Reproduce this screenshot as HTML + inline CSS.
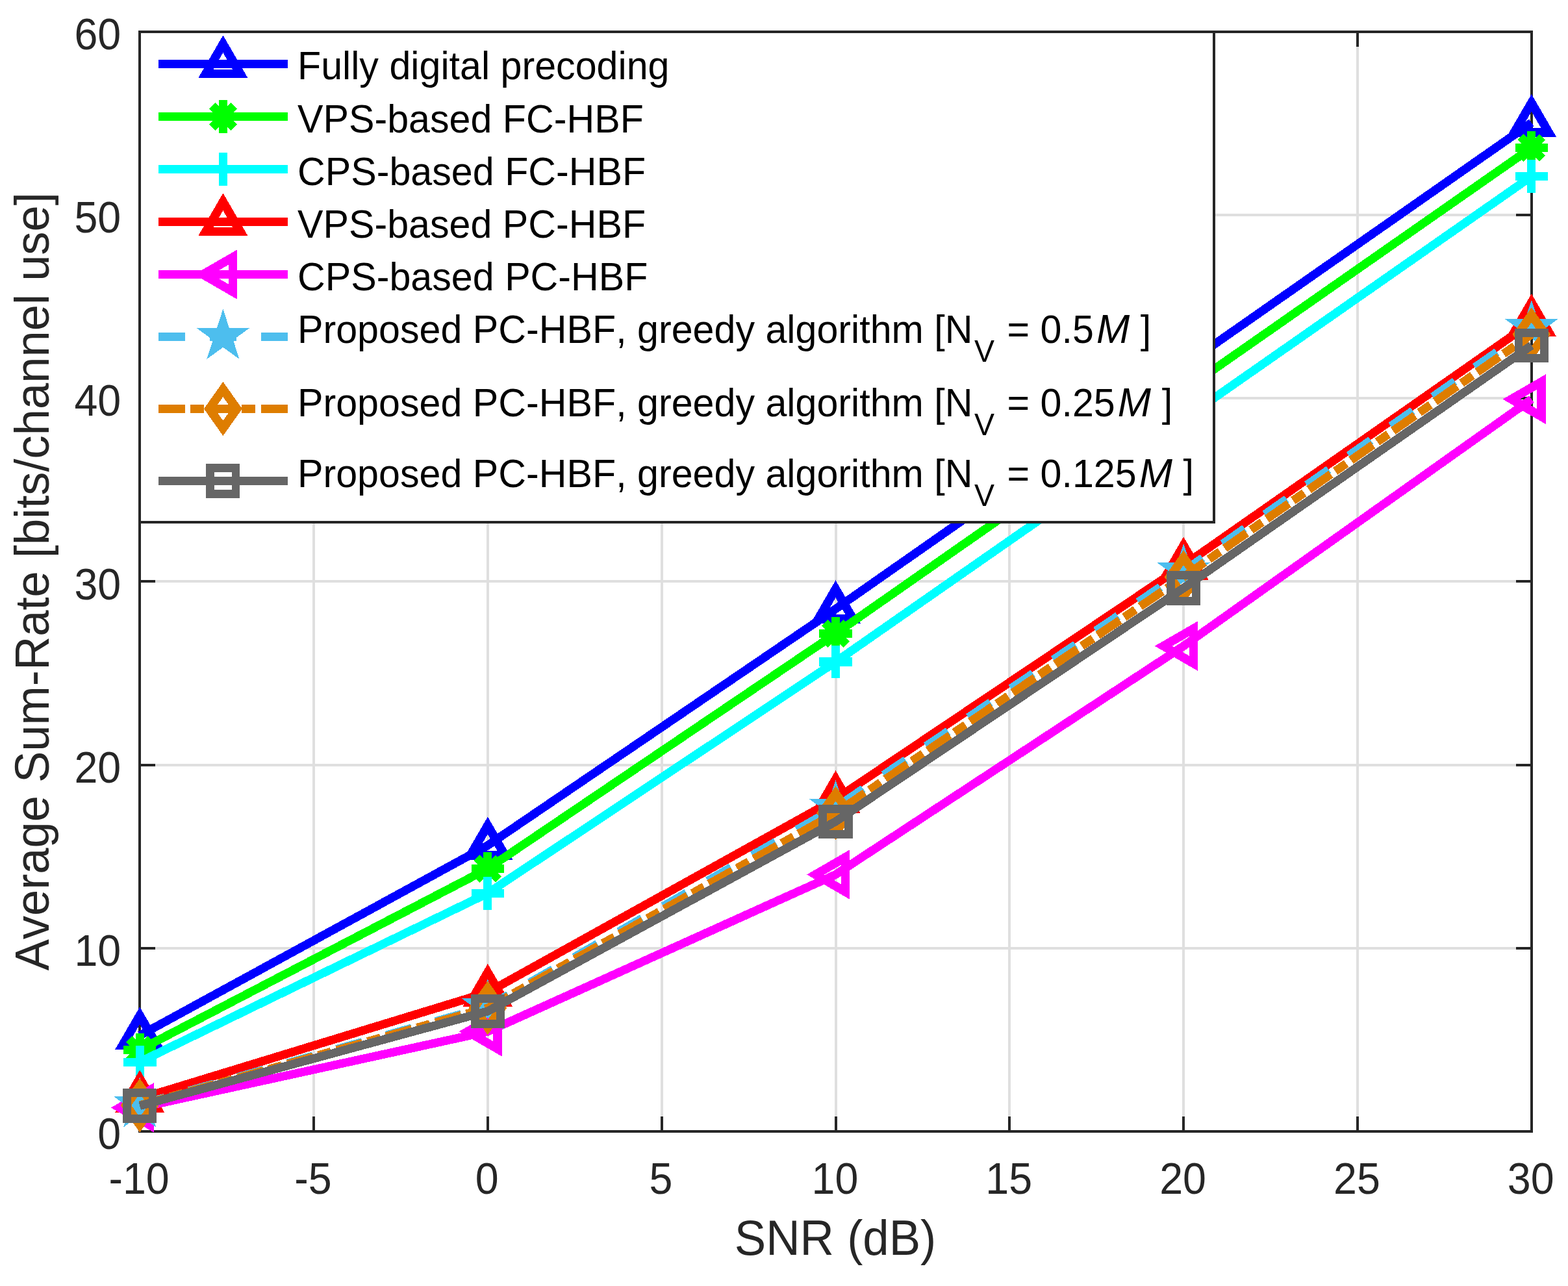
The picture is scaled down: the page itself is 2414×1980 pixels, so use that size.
<!DOCTYPE html>
<html lang="en"><head><meta charset="utf-8"><title>Average Sum-Rate vs SNR</title>
<style>
html,body{margin:0;padding:0;background:#fff;}
body{width:2414px;height:1980px;overflow:hidden;}
svg{display:block;}
text{font-family:"Liberation Sans",Arial,Helvetica,sans-serif;font-kerning:none;font-variant-ligatures:none;}
.tk{font-size:64.6px;fill:#262626;}
.lb{font-size:72.6px;fill:#262626;}
.yl{font-size:72.35px;}
.lg{font-size:59.2px;fill:#000;}
.sub{font-size:46.5px;}
.it{font-style:italic;font-size:61.5px;}
</style></head><body>
<svg width="2414" height="1980" viewBox="0 0 2414 1980" shape-rendering="crispEdges">
<rect width="2414" height="1980" fill="#fff"/>
<g stroke="#dfdfdf" stroke-width="4" fill="none">
<line x1="483.03" y1="48.8" x2="483.03" y2="1742"/>
<line x1="750.85" y1="48.8" x2="750.85" y2="1742"/>
<line x1="1018.68" y1="48.8" x2="1018.68" y2="1742"/>
<line x1="1286.5" y1="48.8" x2="1286.5" y2="1742"/>
<line x1="1554.33" y1="48.8" x2="1554.33" y2="1742"/>
<line x1="1822.15" y1="48.8" x2="1822.15" y2="1742"/>
<line x1="2089.98" y1="48.8" x2="2089.98" y2="1742"/>
<line x1="215.2" y1="1459.8" x2="2357.8" y2="1459.8"/>
<line x1="215.2" y1="1177.6" x2="2357.8" y2="1177.6"/>
<line x1="215.2" y1="895.4" x2="2357.8" y2="895.4"/>
<line x1="215.2" y1="613.2" x2="2357.8" y2="613.2"/>
<line x1="215.2" y1="331" x2="2357.8" y2="331"/>
</g>
<g stroke="#262626" stroke-width="4" fill="none">
<rect x="215.2" y="48.8" width="2142.6" height="1693.2"/>
<path d="M483.03 1742v-23.5M483.03 48.8v23.5M750.85 1742v-23.5M750.85 48.8v23.5M1018.68 1742v-23.5M1018.68 48.8v23.5M1286.5 1742v-23.5M1286.5 48.8v23.5M1554.33 1742v-23.5M1554.33 48.8v23.5M1822.15 1742v-23.5M1822.15 48.8v23.5M2089.98 1742v-23.5M2089.98 48.8v23.5M215.2 1459.8h23.5M2357.8 1459.8h-23.5M215.2 1177.6h23.5M2357.8 1177.6h-23.5M215.2 895.4h23.5M2357.8 895.4h-23.5M215.2 613.2h23.5M2357.8 613.2h-23.5M215.2 331h23.5M2357.8 331h-23.5"/>
</g>
<g class="tk" text-anchor="middle">
<text transform="translate(214.1 1837.8) scale(1 1.055)">-10</text>
<text transform="translate(481.93 1837.8) scale(1 1.055)">-5</text>
<text transform="translate(749.75 1837.8) scale(1 1.055)">0</text>
<text transform="translate(1017.58 1837.8) scale(1 1.055)">5</text>
<text transform="translate(1285.4 1837.8) scale(1 1.055)">10</text>
<text transform="translate(1553.23 1837.8) scale(1 1.055)">15</text>
<text transform="translate(1821.05 1837.8) scale(1 1.055)">20</text>
<text transform="translate(2088.88 1837.8) scale(1 1.055)">25</text>
<text transform="translate(2356.7 1837.8) scale(1 1.055)">30</text>
</g>
<g class="tk" text-anchor="end">
<text transform="translate(186.3 1769.2) scale(1 1.055)">0</text>
<text transform="translate(186.3 1487) scale(1 1.055)">10</text>
<text transform="translate(186.3 1204.8) scale(1 1.055)">20</text>
<text transform="translate(186.3 922.6) scale(1 1.055)">30</text>
<text transform="translate(186.3 640.4) scale(1 1.055)">40</text>
<text transform="translate(186.3 358.2) scale(1 1.055)">50</text>
<text transform="translate(186.3 76) scale(1 1.055)">60</text>
</g>
<text class="lb" text-anchor="middle" transform="translate(1286 1932.2) scale(1 1.05)">SNR (dB)</text>
<text class="lb yl" text-anchor="middle" transform="translate(74.9 895.3) rotate(-90) scale(1 1.03)">Average Sum-Rate [bits/channel use]</text>
<g>
<polyline points="215.2,1594.4 750.85,1301.7 1286.5,937.6 1822.15,563.25 2357.8,189" fill="none" stroke="#0000ff" stroke-width="13.1" stroke-linejoin="miter" stroke-linecap="butt"/>
<polygon points="215.2,1563.7 241.8,1609.55 188.6,1609.55" fill="none" stroke="#0000ff" stroke-width="13.5" stroke-linejoin="miter" stroke-miterlimit="10"/>
<polygon points="750.85,1271 777.45,1316.85 724.25,1316.85" fill="none" stroke="#0000ff" stroke-width="13.5" stroke-linejoin="miter" stroke-miterlimit="10"/>
<polygon points="1286.5,906.9 1313.1,952.75 1259.9,952.75" fill="none" stroke="#0000ff" stroke-width="13.5" stroke-linejoin="miter" stroke-miterlimit="10"/>
<polygon points="1822.15,532.55 1848.75,578.4 1795.55,578.4" fill="none" stroke="#0000ff" stroke-width="13.5" stroke-linejoin="miter" stroke-miterlimit="10"/>
<polygon points="2357.8,158.3 2384.4,204.15 2331.2,204.15" fill="none" stroke="#0000ff" stroke-width="13.5" stroke-linejoin="miter" stroke-miterlimit="10"/>
</g>
<g>
<polyline points="215.2,1616.3 750.85,1337.5 1286.5,975.5 1822.15,601.4 2357.8,227.5" fill="none" stroke="#00ff00" stroke-width="13.1" stroke-linejoin="miter" stroke-linecap="butt"/>
<path d="M190 1616.3H240.4M215.2 1591.1V1641.5M198.51 1599.61L231.89 1632.99M198.51 1632.99L231.89 1599.61" fill="none" stroke="#00ff00" stroke-width="13.1" stroke-linejoin="miter" stroke-miterlimit="10"/>
<path d="M725.65 1337.5H776.05M750.85 1312.3V1362.7M734.16 1320.81L767.54 1354.19M734.16 1354.19L767.54 1320.81" fill="none" stroke="#00ff00" stroke-width="13.1" stroke-linejoin="miter" stroke-miterlimit="10"/>
<path d="M1261.3 975.5H1311.7M1286.5 950.3V1000.7M1269.81 958.81L1303.19 992.19M1269.81 992.19L1303.19 958.81" fill="none" stroke="#00ff00" stroke-width="13.1" stroke-linejoin="miter" stroke-miterlimit="10"/>
<path d="M1796.95 601.4H1847.35M1822.15 576.2V626.6M1805.46 584.71L1838.84 618.09M1805.46 618.09L1838.84 584.71" fill="none" stroke="#00ff00" stroke-width="13.1" stroke-linejoin="miter" stroke-miterlimit="10"/>
<path d="M2332.6 227.5H2383M2357.8 202.3V252.7M2341.11 210.81L2374.49 244.19M2341.11 244.19L2374.49 210.81" fill="none" stroke="#00ff00" stroke-width="13.1" stroke-linejoin="miter" stroke-miterlimit="10"/>
</g>
<g>
<polyline points="215.2,1635.1 750.85,1375.3 1286.5,1019 1822.15,645.7 2357.8,271.6" fill="none" stroke="#00ffff" stroke-width="13.1" stroke-linejoin="miter" stroke-linecap="butt"/>
<path d="M189.9 1635.1H240.5M215.2 1609.8V1660.4" fill="none" stroke="#00ffff" stroke-width="13.1" stroke-linejoin="miter" stroke-miterlimit="10"/>
<path d="M725.55 1375.3H776.15M750.85 1350V1400.6" fill="none" stroke="#00ffff" stroke-width="13.1" stroke-linejoin="miter" stroke-miterlimit="10"/>
<path d="M1261.2 1019H1311.8M1286.5 993.7V1044.3" fill="none" stroke="#00ffff" stroke-width="13.1" stroke-linejoin="miter" stroke-miterlimit="10"/>
<path d="M1796.85 645.7H1847.45M1822.15 620.4V671" fill="none" stroke="#00ffff" stroke-width="13.1" stroke-linejoin="miter" stroke-miterlimit="10"/>
<path d="M2332.5 271.6H2383.1M2357.8 246.3V296.9" fill="none" stroke="#00ffff" stroke-width="13.1" stroke-linejoin="miter" stroke-miterlimit="10"/>
</g>
<g>
<polyline points="215.2,1691.5 750.85,1528 1286.5,1230.4 1822.15,870.6 2357.8,496.4" fill="none" stroke="#ff0000" stroke-width="13.1" stroke-linejoin="miter" stroke-linecap="butt"/>
<polygon points="215.2,1660.8 241.8,1706.65 188.6,1706.65" fill="none" stroke="#ff0000" stroke-width="13.5" stroke-linejoin="miter" stroke-miterlimit="10"/>
<polygon points="750.85,1497.3 777.45,1543.15 724.25,1543.15" fill="none" stroke="#ff0000" stroke-width="13.5" stroke-linejoin="miter" stroke-miterlimit="10"/>
<polygon points="1286.5,1199.7 1313.1,1245.55 1259.9,1245.55" fill="none" stroke="#ff0000" stroke-width="13.5" stroke-linejoin="miter" stroke-miterlimit="10"/>
<polygon points="1822.15,839.9 1848.75,885.75 1795.55,885.75" fill="none" stroke="#ff0000" stroke-width="13.5" stroke-linejoin="miter" stroke-miterlimit="10"/>
<polygon points="2357.8,465.7 2384.4,511.55 2331.2,511.55" fill="none" stroke="#ff0000" stroke-width="13.5" stroke-linejoin="miter" stroke-miterlimit="10"/>
</g>
<g>
<polyline points="215.2,1705.4 750.85,1588.25 1286.5,1346.5 1822.15,994.65 2357.8,614.65" fill="none" stroke="#ff00ff" stroke-width="13.1" stroke-linejoin="miter" stroke-linecap="butt"/>
<polygon points="184.3,1705.4 230.3,1678.8 230.3,1732" fill="none" stroke="#ff00ff" stroke-width="13.5" stroke-linejoin="miter" stroke-miterlimit="10"/>
<polygon points="719.95,1588.25 765.95,1561.65 765.95,1614.85" fill="none" stroke="#ff00ff" stroke-width="13.5" stroke-linejoin="miter" stroke-miterlimit="10"/>
<polygon points="1255.6,1346.5 1301.6,1319.9 1301.6,1373.1" fill="none" stroke="#ff00ff" stroke-width="13.5" stroke-linejoin="miter" stroke-miterlimit="10"/>
<polygon points="1791.25,994.65 1837.25,968.05 1837.25,1021.25" fill="none" stroke="#ff00ff" stroke-width="13.5" stroke-linejoin="miter" stroke-miterlimit="10"/>
<polygon points="2326.9,614.65 2372.9,588.05 2372.9,641.25" fill="none" stroke="#ff00ff" stroke-width="13.5" stroke-linejoin="miter" stroke-miterlimit="10"/>
</g>
<g>
<polyline points="215.2,1701 750.85,1550 1286.5,1243.5 1822.15,879.6 2357.8,504.6" fill="none" stroke="#4dbeee" stroke-width="13.1" stroke-linejoin="miter" stroke-linecap="butt" stroke-dasharray="41.2 37.8" stroke-dashoffset="1.2"/>
<polygon points="215.2,1658.3 224.79,1687.8 255.81,1687.8 230.71,1706.04 240.3,1735.55 215.2,1717.31 190.1,1735.55 199.69,1706.04 174.59,1687.8 205.61,1687.8" fill="#4dbeee"/>
<polygon points="750.85,1507.3 760.44,1536.8 791.46,1536.8 766.36,1555.04 775.95,1584.55 750.85,1566.31 725.75,1584.55 735.34,1555.04 710.24,1536.8 741.26,1536.8" fill="#4dbeee"/>
<polygon points="1286.5,1200.8 1296.09,1230.3 1327.11,1230.3 1302.01,1248.54 1311.6,1278.05 1286.5,1259.81 1261.4,1278.05 1270.99,1248.54 1245.89,1230.3 1276.91,1230.3" fill="#4dbeee"/>
<polygon points="1822.15,836.9 1831.74,866.4 1862.76,866.4 1837.66,884.64 1847.25,914.15 1822.15,895.91 1797.05,914.15 1806.64,884.64 1781.54,866.4 1812.56,866.4" fill="#4dbeee"/>
<polygon points="2357.8,461.9 2367.39,491.4 2398.41,491.4 2373.31,509.64 2382.9,539.15 2357.8,520.91 2332.7,539.15 2342.29,509.64 2317.19,491.4 2348.21,491.4" fill="#4dbeee"/>
</g>
<g>
<polyline points="215.2,1701.9 750.85,1551.85 1286.5,1251.8 1822.15,888.4 2357.8,514.8" fill="none" stroke="#de7d00" stroke-width="13.1" stroke-linejoin="miter" stroke-linecap="butt" stroke-dasharray="41.2 8.2 20.7 8.9" stroke-dashoffset="1.2"/>
<polygon points="215.2,1672 236.4,1701.9 215.2,1731.8 194,1701.9" fill="none" stroke="#de7d00" stroke-width="13.5" stroke-linejoin="miter" stroke-miterlimit="10"/>
<polygon points="750.85,1521.95 772.05,1551.85 750.85,1581.75 729.65,1551.85" fill="none" stroke="#de7d00" stroke-width="13.5" stroke-linejoin="miter" stroke-miterlimit="10"/>
<polygon points="1286.5,1221.9 1307.7,1251.8 1286.5,1281.7 1265.3,1251.8" fill="none" stroke="#de7d00" stroke-width="13.5" stroke-linejoin="miter" stroke-miterlimit="10"/>
<polygon points="1822.15,858.5 1843.35,888.4 1822.15,918.3 1800.95,888.4" fill="none" stroke="#de7d00" stroke-width="13.5" stroke-linejoin="miter" stroke-miterlimit="10"/>
<polygon points="2357.8,484.9 2379,514.8 2357.8,544.7 2336.6,514.8" fill="none" stroke="#de7d00" stroke-width="13.5" stroke-linejoin="miter" stroke-miterlimit="10"/>
</g>
<g>
<polyline points="215.2,1702.55 750.85,1557 1286.5,1264.9 1822.15,905.5 2357.8,531.85" fill="none" stroke="#666666" stroke-width="13.1" stroke-linejoin="miter" stroke-linecap="butt"/>
<rect x="195.5" y="1682.85" width="39.4" height="39.4" fill="none" stroke="#666666" stroke-width="12.7" stroke-linejoin="miter" stroke-miterlimit="10"/>
<rect x="731.15" y="1537.3" width="39.4" height="39.4" fill="none" stroke="#666666" stroke-width="12.7" stroke-linejoin="miter" stroke-miterlimit="10"/>
<rect x="1266.8" y="1245.2" width="39.4" height="39.4" fill="none" stroke="#666666" stroke-width="12.7" stroke-linejoin="miter" stroke-miterlimit="10"/>
<rect x="1802.45" y="885.8" width="39.4" height="39.4" fill="none" stroke="#666666" stroke-width="12.7" stroke-linejoin="miter" stroke-miterlimit="10"/>
<rect x="2338.1" y="512.15" width="39.4" height="39.4" fill="none" stroke="#666666" stroke-width="12.7" stroke-linejoin="miter" stroke-miterlimit="10"/>
</g>
<rect x="215.2" y="48.8" width="1653.8" height="755.1" fill="#fff" stroke="#262626" stroke-width="4"/>
<line x1="243.9" y1="98.5" x2="443.2" y2="98.5" stroke="#0000ff" stroke-width="13.1"/>
<polygon points="343.4,67.8 370,113.65 316.8,113.65" fill="none" stroke="#0000ff" stroke-width="13.5" stroke-linejoin="miter" stroke-miterlimit="10"/>
<text class="lg" transform="translate(458 122.3) scale(1 1.035)">Fully digital precoding</text>
<line x1="243.9" y1="179.5" x2="443.2" y2="179.5" stroke="#00ff00" stroke-width="13.1"/>
<path d="M318.2 179.5H368.6M343.4 154.3V204.7M326.71 162.81L360.09 196.19M326.71 196.19L360.09 162.81" fill="none" stroke="#00ff00" stroke-width="13.1" stroke-linejoin="miter" stroke-miterlimit="10"/>
<text class="lg" transform="translate(458 204) scale(1 1.035)">VPS-based FC-HBF</text>
<line x1="243.9" y1="260.5" x2="443.2" y2="260.5" stroke="#00ffff" stroke-width="13.1"/>
<path d="M318.1 260.5H368.7M343.4 235.2V285.8" fill="none" stroke="#00ffff" stroke-width="13.1" stroke-linejoin="miter" stroke-miterlimit="10"/>
<text class="lg" transform="translate(458 284.5) scale(1 1.035)">CPS-based FC-HBF</text>
<line x1="243.9" y1="341.5" x2="443.2" y2="341.5" stroke="#ff0000" stroke-width="13.1"/>
<polygon points="343.4,310.8 370,356.65 316.8,356.65" fill="none" stroke="#ff0000" stroke-width="13.5" stroke-linejoin="miter" stroke-miterlimit="10"/>
<text class="lg" transform="translate(458 365.5) scale(1 1.035)">VPS-based PC-HBF</text>
<line x1="243.9" y1="422.6" x2="443.2" y2="422.6" stroke="#ff00ff" stroke-width="13.1"/>
<polygon points="312.5,422.6 358.5,396 358.5,449.2" fill="none" stroke="#ff00ff" stroke-width="13.5" stroke-linejoin="miter" stroke-miterlimit="10"/>
<text class="lg" transform="translate(458 446.6) scale(1 1.035)">CPS-based PC-HBF</text>
<line x1="243.9" y1="518.4" x2="443.2" y2="518.4" stroke="#4dbeee" stroke-width="13.1" stroke-dasharray="41.2 37.8"/>
<polygon points="343.4,475.7 352.99,505.2 384.01,505.2 358.91,523.44 368.5,552.95 343.4,534.71 318.3,552.95 327.89,523.44 302.79,505.2 333.81,505.2" fill="#4dbeee"/>
<text class="lg" transform="translate(458 527.9) scale(1 1.035)">Proposed PC-HBF, greedy algorithm [N<tspan class="sub" dx="2.6" dy="27.9">V</tspan><tspan dy="-27.9" dx="3"> = 0.5</tspan><tspan class="it" dx="4">M</tspan><tspan dx="0.2"> ]</tspan></text>
<line x1="243.9" y1="629.4" x2="443.2" y2="629.4" stroke="#de7d00" stroke-width="13.1" stroke-dasharray="41.2 8.2 20.7 8.9"/>
<polygon points="343.4,599.5 364.6,629.4 343.4,659.3 322.2,629.4" fill="none" stroke="#de7d00" stroke-width="13.5" stroke-linejoin="miter" stroke-miterlimit="10"/>
<text class="lg" transform="translate(458 641) scale(1 1.035)">Proposed PC-HBF, greedy algorithm [N<tspan class="sub" dx="2.6" dy="27.9">V</tspan><tspan dy="-27.9" dx="3"> = 0.25</tspan><tspan class="it" dx="4">M</tspan><tspan dx="0.2"> ]</tspan></text>
<line x1="243.9" y1="740.5" x2="443.2" y2="740.5" stroke="#666666" stroke-width="13.1"/>
<rect x="323.7" y="720.8" width="39.4" height="39.4" fill="none" stroke="#666666" stroke-width="12.7" stroke-linejoin="miter" stroke-miterlimit="10"/>
<text class="lg" transform="translate(458 750.1) scale(1 1.035)">Proposed PC-HBF, greedy algorithm [N<tspan class="sub" dx="2.6" dy="27.9">V</tspan><tspan dy="-27.9" dx="3"> = 0.125</tspan><tspan class="it" dx="4">M</tspan><tspan dx="0.2"> ]</tspan></text>
</svg>
</body></html>
